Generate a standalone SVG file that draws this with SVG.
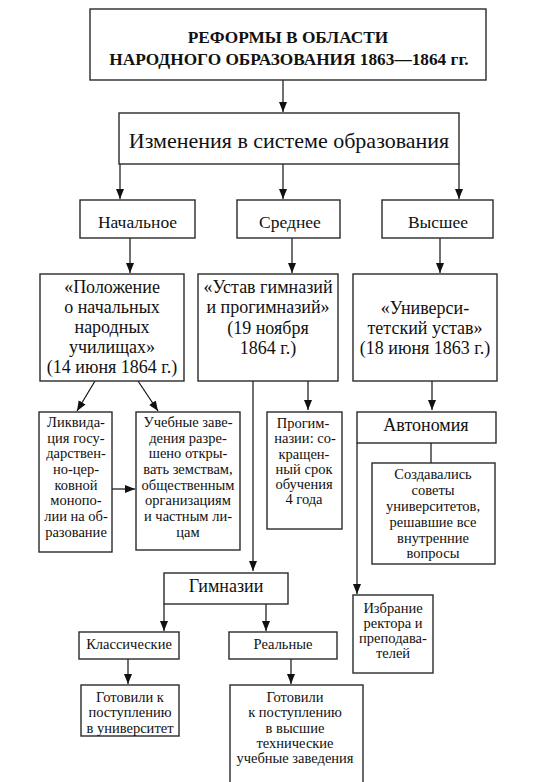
<svg xmlns="http://www.w3.org/2000/svg" width="538" height="782" viewBox="0 0 538 782">
<style>
  .box { fill: #fff; stroke: #2a2a2a; stroke-width: 1.4; }
  .ln { fill: none; stroke: #111; stroke-width: 1.2; }
  text { font-family: "Liberation Serif", Tinos, "Times New Roman", "DejaVu Serif", "Noto Serif", serif; fill: #111; text-anchor: middle; }
  .t1 { font-size: 17.3px; font-weight: bold; }
  .t2 { font-size: 22px; }
  .t3 { font-size: 17.5px; }
  .t4 { font-size: 18px; }
  .t5 { font-size: 14.5px; }
</style>
<defs>
  <marker id="arr" markerUnits="userSpaceOnUse" markerWidth="10" markerHeight="10" refX="10" refY="4" orient="auto">
    <path d="M0,0 L10,4 L0,8 z" fill="#111"/>
  </marker>
</defs>
<rect x="0" y="0" width="538" height="782" fill="#fff"/>

<g id="connectors">
  <path class="ln" d="M283,80 V112" marker-end="url(#arr)"/>
  <path class="ln" d="M120,164 V199" marker-end="url(#arr)"/>
  <path class="ln" d="M283,164 V199" marker-end="url(#arr)"/>
  <path class="ln" d="M459,164 V199" marker-end="url(#arr)"/>
  <path class="ln" d="M130,238 V273" marker-end="url(#arr)"/>
  <path class="ln" d="M292,238 V273" marker-end="url(#arr)"/>
  <path class="ln" d="M440,238 V273" marker-end="url(#arr)"/>
  <path class="ln" d="M95,381 L77,411" marker-end="url(#arr)"/>
  <path class="ln" d="M138,381 L158,411" marker-end="url(#arr)"/>
  <path class="ln" d="M112,489 H135" marker-end="url(#arr)"/>
  <path class="ln" d="M253,381 V571" marker-end="url(#arr)"/>
  <path class="ln" d="M308,381 V410" marker-end="url(#arr)"/>
  <path class="ln" d="M432,381 V410" marker-end="url(#arr)"/>
  <path class="ln" d="M431,443 V463"/>
  <path class="ln" d="M357,443 V594" marker-end="url(#arr)"/>
  <path class="ln" d="M164,604 V631" marker-end="url(#arr)"/>
  <path class="ln" d="M266,604 V631" marker-end="url(#arr)"/>
  <path class="ln" d="M128,659 V684" marker-end="url(#arr)"/>
  <path class="ln" d="M291,659 V684" marker-end="url(#arr)"/>
</g>

<g id="title">
  <rect class="box" x="90" y="9" width="396" height="71"/>
  <text class="t1" x="288" y="43">РЕФОРМЫ В ОБЛАСТИ</text>
  <text class="t1" x="289" y="65">НАРОДНОГО ОБРАЗОВАНИЯ 1863—1864 гг.</text>
</g>

<g id="changes">
  <rect class="box" x="119" y="113" width="340" height="51"/>
  <text class="t2" x="289" y="148">Изменения в системе образования</text>
</g>

<g id="primary">
  <rect class="box" x="80" y="200" width="115" height="38"/>
  <text class="t3" x="137.5" y="228">Начальное</text>
</g>
<g id="secondary">
  <rect class="box" x="237" y="200" width="103" height="38"/>
  <text class="t3" x="290" y="228">Среднее</text>
</g>
<g id="higher">
  <rect class="box" x="382" y="200" width="111" height="38"/>
  <text class="t3" x="438" y="228">Высшее</text>
</g>

<g id="polozhenie">
  <rect class="box" x="40" y="274" width="144" height="107"/>
  <text class="t4" x="112" y="293">«Положение</text>
  <text class="t4" x="112" y="313">о начальных</text>
  <text class="t4" x="112" y="333">народных</text>
  <text class="t4" x="112" y="353">училищах»</text>
  <text class="t4" x="112" y="373">(14 июня 1864 г.)</text>
</g>
<g id="ustav-gimn">
  <rect class="box" x="198" y="274" width="140" height="107"/>
  <text class="t4" x="268" y="293">«Устав гимназий</text>
  <text class="t4" x="268" y="313">и прогимназий»</text>
  <text class="t4" x="268" y="334">(19 ноября</text>
  <text class="t4" x="268" y="354">1864 г.)</text>
</g>
<g id="ustav-univ">
  <rect class="box" x="353" y="274" width="144" height="107"/>
  <text class="t4" x="425" y="314">«Универси-</text>
  <text class="t4" x="425" y="334">тетский устав»</text>
  <text class="t4" x="425" y="354">(18 июня 1863 г.)</text>
</g>

<g id="likvidacia">
  <rect class="box" x="39" y="412" width="73" height="140"/>
  <text class="t5" x="76" y="427">Ликвида-</text>
  <text class="t5" x="76" y="443">ция госу-</text>
  <text class="t5" x="76" y="458">дарствен-</text>
  <text class="t5" x="76" y="474">но-цер-</text>
  <text class="t5" x="76" y="490">ковной</text>
  <text class="t5" x="76" y="505">монопо-</text>
  <text class="t5" x="76" y="521">лии на об-</text>
  <text class="t5" x="76" y="537">разование</text>
</g>
<g id="uchebnye">
  <rect class="box" x="136" y="412" width="104" height="138"/>
  <text class="t5" x="188" y="427">Учебные заве-</text>
  <text class="t5" x="188" y="443">дения разре-</text>
  <text class="t5" x="188" y="458">шено откры-</text>
  <text class="t5" x="188" y="474">вать земствам,</text>
  <text class="t5" x="188" y="490">общественным</text>
  <text class="t5" x="188" y="505">организациям</text>
  <text class="t5" x="188" y="521">и частным ли-</text>
  <text class="t5" x="188" y="537">цам</text>
</g>
<g id="progimn">
  <rect class="box" x="267" y="412" width="75" height="117"/>
  <text class="t5" x="303" y="428">Прогим-</text>
  <text class="t5" x="305" y="443">назии: со-</text>
  <text class="t5" x="304" y="459">кращен-</text>
  <text class="t5" x="304" y="474">ный срок</text>
  <text class="t5" x="304" y="489">обучения</text>
  <text class="t5" x="304" y="504">4 года</text>
</g>
<g id="avtonomia">
  <rect class="box" x="357" y="412" width="139" height="31"/>
  <text class="t4" x="426" y="431">Автономия</text>
</g>
<g id="sovety">
  <rect class="box" x="372" y="463" width="123" height="101"/>
  <text class="t5" x="433" y="479">Создавались</text>
  <text class="t5" x="433" y="495">советы</text>
  <text class="t5" x="433" y="511">университетов,</text>
  <text class="t5" x="433" y="527">решавшие все</text>
  <text class="t5" x="433" y="543">внутренние</text>
  <text class="t5" x="433" y="558">вопросы</text>
</g>
<g id="izbranie">
  <rect class="box" x="353" y="595" width="80" height="78"/>
  <text class="t5" x="393" y="613">Избрание</text>
  <text class="t5" x="393" y="628">ректора и</text>
  <text class="t5" x="393" y="643">преподава-</text>
  <text class="t5" x="393" y="658">телей</text>
</g>
<g id="gimnazii">
  <rect class="box" x="164" y="573" width="124" height="31"/>
  <text class="t4" x="226" y="592">Гимназии</text>
</g>
<g id="klassicheskie">
  <rect class="box" x="79" y="632" width="100" height="27"/>
  <text class="t5" x="129" y="649">Классические</text>
</g>
<g id="realnye">
  <rect class="box" x="229" y="632" width="108" height="27"/>
  <text class="t5" x="283" y="649">Реальные</text>
</g>
<g id="gotovili-univ">
  <rect class="box" x="81" y="685" width="98" height="51"/>
  <text class="t5" x="130" y="702">Готовили к</text>
  <text class="t5" x="130" y="717">поступлению</text>
  <text class="t5" x="130" y="733">в университет</text>
</g>
<g id="gotovili-tech">
  <rect class="box" x="230" y="685" width="133" height="102"/>
  <text class="t5" x="295" y="702">Готовили</text>
  <text class="t5" x="295" y="717">к поступлению</text>
  <text class="t5" x="295" y="733">в высшие</text>
  <text class="t5" x="295" y="748">технические</text>
  <text class="t5" x="295" y="763">учебные заведения</text>
</g>
</svg>
